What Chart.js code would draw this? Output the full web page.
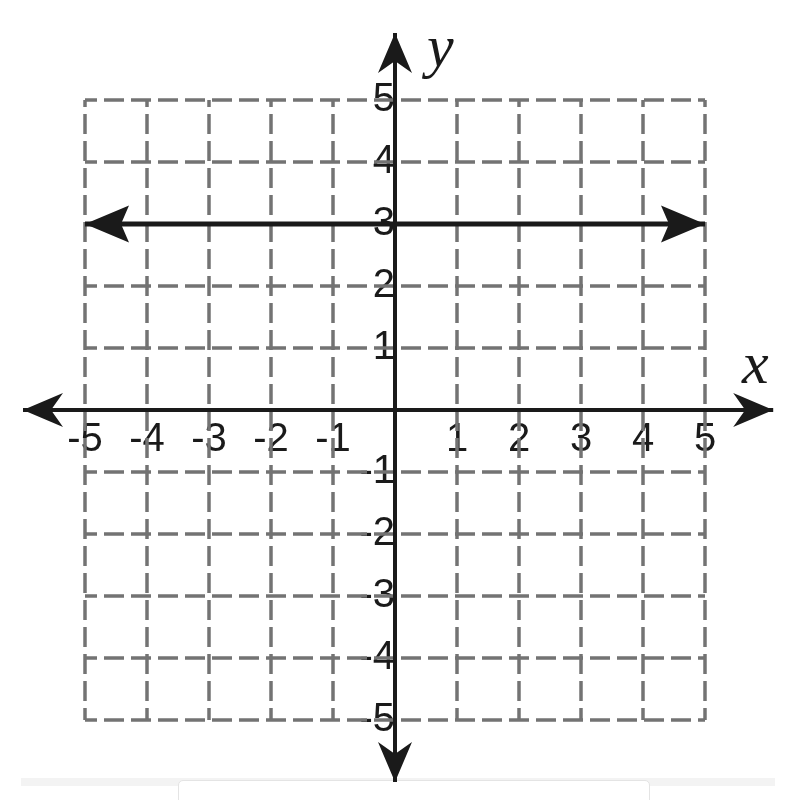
<!DOCTYPE html>
<html>
<head>
<meta charset="utf-8">
<script src="https://cdn.jsdelivr.net/npm/chart.js@4.4.1/dist/chart.umd.min.js"></script>
<style>
  body { margin: 0; background: #fff; }
  #wrap { position: relative; width: 800px; height: 800px; }
  #strip { position: absolute; left: 21px; top: 778px; width: 754px; height: 8px; background: #f3f3f3; }
  #box { position: absolute; left: 178px; top: 780px; width: 470px; height: 30px; border: 1px solid #e4e4e4; border-radius: 5px; background: #fff; }
  canvas { position: absolute; left: 0; top: 0; }
</style>
</head>
<body>
<div id="wrap">
  <div id="strip"></div>
  <div id="box"></div>
  <canvas id="graph" width="800" height="800"></canvas>
</div>
<script>
// grid / tick values
const gridVals = [-5, -4, -3, -2, -1, 0, 1, 2, 3, 4, 5];
const xTickVals = [-5, -4, -3, -2, -1, 1, 2, 3, 4, 5];
const xTickLabels = ['-5', '-4', '-3', '-2', '-1', '1', '2', '3', '4', '5'];
const yTickVals = [-5, -4, -3, -2, -1, 1, 2, 3, 4, 5];
const yTickLabels = ['-5', '-4', '-3', '-2', '-1', '1', '2', '3', '4', '5'];

// axes extents (arrow tips)
const xAxisEnds = [-6.0, 6.1];
const yAxisEnds = [-6.0, 6.08];

// the graphed line y = 3, from x=-5 to x=5
const lineX = [-5, 5];
const lineY = [3, 3];

const ink = '#1a1a1a';
const gridColor = '#737373';

let datasets = [];

// x axis and y axis
datasets.push({ data: [{ x: xAxisEnds[0], y: 0 }, { x: xAxisEnds[1], y: 0 }], borderColor: ink, borderWidth: 4, pointRadius: 0, order: 1 });
datasets.push({ data: [{ x: 0, y: yAxisEnds[0] }, { x: 0, y: yAxisEnds[1] }], borderColor: ink, borderWidth: 4, pointRadius: 0, order: 1 });
// y = 3
datasets.push({ data: lineX.map((x, i) => ({ x: x, y: lineY[i] })), borderColor: ink, borderWidth: 5, pointRadius: 0, order: 0 });

// dashed grid
gridVals.forEach(v => {
  datasets.push({ data: [{ x: v, y: -5 }, { x: v, y: 5 }], borderColor: gridColor, borderWidth: 3.5, borderDash: [20, 7], borderDashOffset: 8, pointRadius: 0, order: 5 });
  datasets.push({ data: [{ x: -5, y: v }, { x: 5, y: v }], borderColor: gridColor, borderWidth: 3.5, borderDash: [20, 7], borderDashOffset: 8, pointRadius: 0, order: 5 });
});

const arrows = [
  { x: xAxisEnds[0], y: 0, dx: -1, dy: 0, len: 40, half: 17, notch: 12 },
  { x: xAxisEnds[1], y: 0, dx: 1, dy: 0, len: 40, half: 17, notch: 12 },
  { x: 0, y: yAxisEnds[1], dx: 0, dy: 1, len: 40, half: 17, notch: 12 },
  { x: 0, y: yAxisEnds[0], dx: 0, dy: -1, len: 40, half: 17, notch: 12 },
  { x: lineX[0], y: lineY[0], dx: -1, dy: 0, len: 44, half: 18.5, notch: 8 },
  { x: lineX[1], y: lineY[1], dx: 1, dy: 0, len: 44, half: 18.5, notch: 8 }
];

const arrowPlugin = {
  id: 'arrows',
  afterDatasetsDraw(chart) {
    const ctx = chart.ctx;
    const xs = chart.scales.x, ys = chart.scales.y;
    ctx.save();
    ctx.fillStyle = ink;
    arrows.forEach(a => {
      const tx = xs.getPixelForValue(a.x), ty = ys.getPixelForValue(a.y);
      // direction in pixel space (y flipped)
      const ux = a.dx, uy = -a.dy;
      const px = -uy, py = ux;
      const bx = tx - ux * a.len, by = ty - uy * a.len;
      const nx = tx - ux * (a.len - a.notch), ny = ty - uy * (a.len - a.notch);
      ctx.beginPath();
      ctx.moveTo(tx, ty);
      ctx.lineTo(bx + px * a.half, by + py * a.half);
      ctx.lineTo(nx, ny);
      ctx.lineTo(bx - px * a.half, by - py * a.half);
      ctx.closePath();
      ctx.fill();
    });
    // axis names
    ctx.font = 'italic 60px "Liberation Serif", "DejaVu Serif", serif';
    ctx.textAlign = 'center';
    ctx.textBaseline = 'alphabetic';
    ctx.fillText('x', xs.getPixelForValue(5.81), ys.getPixelForValue(0.44));
    ctx.fillText('y', xs.getPixelForValue(0.73), ys.getPixelForValue(5.55));
    ctx.restore();
  }
};

// centred axes should not take any layout room
const noRoom = s => {
  if (s.isHorizontal()) s.height = 0; else s.width = 0;
  s.paddingTop = 0; s.paddingBottom = 0; s.paddingLeft = 0; s.paddingRight = 0;
};

const tickFont = { family: '"Liberation Sans Narrow", "Liberation Sans", sans-serif', size: 40 };

new Chart(document.getElementById('graph'), {
  type: 'line',
  data: { datasets: datasets },
  options: {
    responsive: false,
    animation: false,
    layout: { padding: { left: 10.6, right: 14.4, top: 19.4, bottom: 5.6 } },
    plugins: { legend: { display: false }, tooltip: { enabled: false } },
    scales: {
      x: {
        type: 'linear',
        min: -6.2,
        max: 6.3,
        position: { y: 0 },
        grid: { display: false, drawTicks: false },
        border: { display: false },
        afterBuildTicks: s => { s.ticks = xTickVals.map(v => ({ value: v })); },
        afterFit: noRoom,
        ticks: {
          autoSkip: false,
          maxRotation: 0,
          padding: 6,
          color: ink,
          font: tickFont,
          callback: (v) => xTickLabels[xTickVals.indexOf(v)]
        }
      },
      y: {
        type: 'linear',
        min: -6.2,
        max: 6.3,
        position: { x: 0 },
        grid: { display: false, drawTicks: false },
        border: { display: false },
        afterBuildTicks: s => { s.ticks = yTickVals.map(v => ({ value: v })); },
        afterFit: noRoom,
        ticks: {
          autoSkip: false,
          padding: 0,
          color: ink,
          font: tickFont,
          callback: (v) => yTickLabels[yTickVals.indexOf(v)]
        }
      }
    }
  },
  plugins: [arrowPlugin]
});
</script>
</body>
</html>
